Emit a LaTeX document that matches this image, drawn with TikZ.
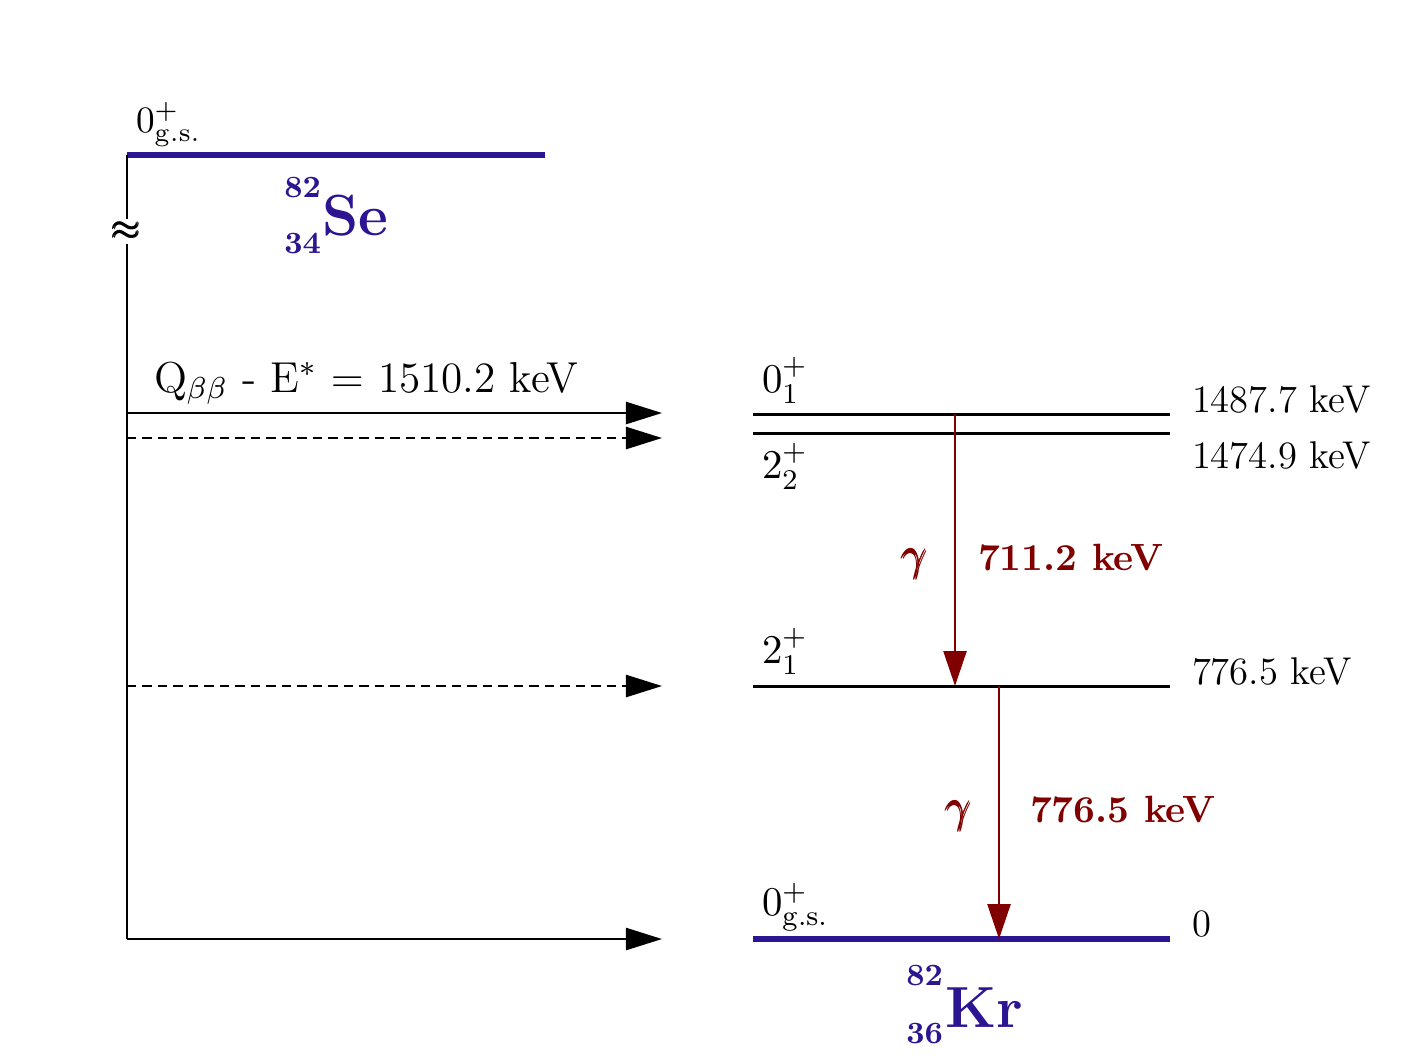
\RequirePackage{fix-cm}
\documentclass[tikz,border=0pt]{standalone}
\usepackage{amsmath}
\usetikzlibrary{arrows.meta}
\definecolor{nucblue}{RGB}{45,20,145}
\definecolor{gamred}{RGB}{128,0,0}
\newcommand{\fs}[1]{\fontsize{#1}{#1}\selectfont}
\begin{document}
\begin{tikzpicture}[x=0.01cm,y=-0.01cm,
  lbl/.style={inner sep=0pt,outer sep=0pt},
  level/.style={line width=0.85pt},
  gslevel/.style={line width=1.7pt,draw=nucblue},
  axisline/.style={line width=0.75pt},
  feed/.style={line width=0.7pt,-{Triangle[length=0.36cm,width=0.22cm]}},
  feeddash/.style={feed,dash pattern=on 2.7pt off 1.7pt},
  gam/.style={line width=0.7pt,draw=gamred,fill=gamred,-{Triangle[length=0.35cm,width=0.23cm]}},
  spin/.style={lbl,anchor=base west,font=\fs{11.6}},
  energy/.style={lbl,anchor=base west,font=\fs{11}},
  gamlbl/.style={lbl,anchor=base west,text=gamred,font=\fs{10.8}\bfseries},
  gamsym/.style={lbl,anchor=base west,text=gamred,font=\fs{13}},
  nuc/.style={lbl,anchor=base west,text=nucblue,font=\fs{16.5}\bfseries},
  nucnum/.style={lbl,anchor=base east,text=nucblue,font=\fs{8.8}\bfseries}]
\useasboundingbox (0,0) rectangle (1416,1063);
\fill[white] (0,0) rectangle (1416,1063);

% ---- Se side ----
\coordinate (seL) at (127,155);
\coordinate (seR) at (545,155);
\draw[gslevel] (seL) -- (seR);
\node[lbl,anchor=base west,font=\fs{10.6}] (segs) at (136,132) {$0^{+}_{\mathrm{g.s.}}$};
\node[nuc] (se) at (322,235) {Se};
\node[nucnum] (seA) at (321,197) {82};
\node[nucnum] (seZ) at (321,253) {34};

% vertical axis with break
\coordinate (brkTop) at (127,219);
\coordinate (brkBot) at (127,244);
\coordinate (axBot) at (127,939);
\draw[axisline] (seL) -- (brkTop);
\draw[axisline] (brkBot) -- (axBot);
\node[lbl,font=\fs{10.5}] (brk) at (127,231) {$\pmb{\approx}$};

% ---- feeding arrows ----
\coordinate (f1s) at (127,413);  \coordinate (f1e) at (662,413);
\coordinate (f2s) at (127,438);  \coordinate (f2e) at (662,438);
\coordinate (f3s) at (127,686);  \coordinate (f3e) at (662,686);
\coordinate (f4e) at (662,939);
\draw[feed] (f1s) -- (f1e);
\draw[feeddash] (f2s) -- (f2e);
\draw[feeddash] (f3s) -- (f3e);
\draw[feed] (axBot) -- (f4e);
\node[lbl,anchor=base west,font=\fs{12.3}] (qlbl) at (154,392) {Q$_{\beta\beta}$ - E$^{*}$ $=$ 1510.2 keV};

% ---- Kr levels ----
\coordinate (l01L) at (753,414);  \coordinate (l01R) at (1170,414);
\coordinate (l22L) at (753,433);  \coordinate (l22R) at (1170,433);
\coordinate (l21L) at (753,686);  \coordinate (l21R) at (1170,686);
\coordinate (lgsL) at (753,939);  \coordinate (lgsR) at (1170,939);
\draw[level] (l01L) -- (l01R);
\draw[level] (l22L) -- (l22R);
\draw[level] (l21L) -- (l21R);
\draw[gslevel] (lgsL) -- (lgsR);

\node[spin] (s01) at (762,392) {$0^{+}_{1}$};
\node[spin] (s22) at (762,478) {$2^{+}_{2}$};
\node[spin] (s21) at (762,663) {$2^{+}_{1}$};
\node[spin] (sgs) at (762,915) {$0^{+}_{\mathrm{g.s.}}$};

\node[energy] (e01) at (1192,412) {1487.7 keV};
\node[energy] (e22) at (1192,468) {1474.9 keV};
\node[energy] (e21) at (1192,684) {776.5 keV};
\node[energy] (egs) at (1192,936) {0};

% ---- gamma transitions ----
\coordinate (g1s) at (955,414);  \coordinate (g1e) at (955,686);
\coordinate (g2s) at (999,686);  \coordinate (g2e) at (999,939);
\draw[gam] (g1s) -- (g1e);
\draw[gam] (g2s) -- (g2e);
\node[gamsym] (gam1) at (902,570) {$\pmb{\gamma}$};
\node[gamlbl] (en1) at (978,570) {711.2 keV};
\node[gamsym] (gam2) at (946,822) {$\pmb{\gamma}$};
\node[gamlbl] (en2) at (1030,822) {776.5 keV};

% ---- Kr label ----
\node[nuc] (kr) at (945,1027) {Kr};
\node[nucnum] (krA) at (943,985) {82};
\node[nucnum] (krZ) at (943,1043) {36};
\end{tikzpicture}
\end{document}
